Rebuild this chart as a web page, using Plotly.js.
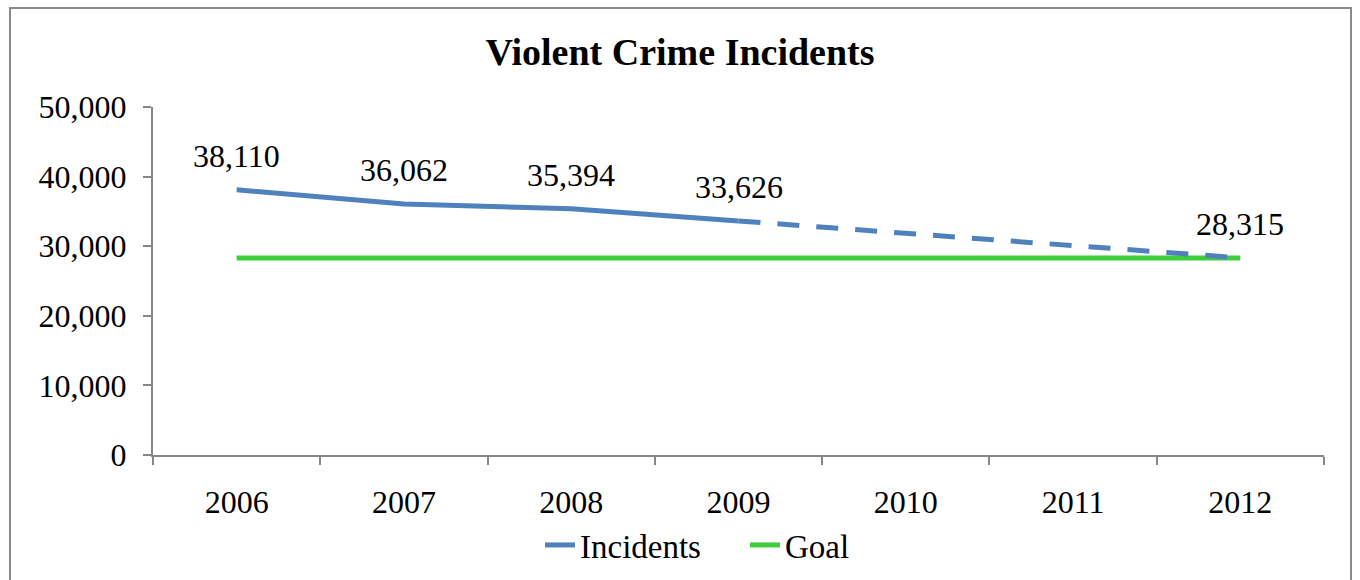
<!DOCTYPE html>
<html>
<head>
<meta charset="utf-8">
<script src="https://cdn.plot.ly/plotly-3.0.1.min.js"></script>
<style>
html,body{margin:0;padding:0;background:#fff;overflow:hidden;}
#wrap{position:relative;width:1360px;height:580px;}
#chart{position:absolute;left:0;top:0;width:1360px;height:580px;}
#frame{position:absolute;left:9px;top:7px;width:1343px;height:600px;border:2px solid #8a8a8a;pointer-events:none;box-sizing:border-box;}
#err{position:absolute;left:20px;top:20px;color:red;font-size:14px;}
</style>
</head>
<body>
<div id="wrap"><div id="chart"></div><div id="frame"></div><div id="err"></div></div>
<script>
const years = ['2006','2007','2008','2009','2010','2011','2012'];
const incidentsActual = [38110, 36062, 35394, 33626, null, null, null];
const incidentsProjected = [null, null, null, 33626, null, null, 28315];
const goal = [28315, 28315, 28315, 28315, 28315, 28315, 28315];
const labelYears = ['2006','2007','2008','2009','2012'];
const labelValues = [38110, 36062, 35394, 33626, 28315];
const labelTexts = ['38,110','36,062','35,394','33,626','28,315'];
const yTicks = [0, 10000, 20000, 30000, 40000, 50000];
const yTickText = ['0','10,000','20,000','30,000','40,000','50,000'];

const FONT = '"Liberation Serif", "Times New Roman", serif';
const BLUE = '#4F81BD';
const GREEN = '#3DCD3D';

try {
const traces = [
  {x: years, y: incidentsActual, type: 'scatter', mode: 'lines', name: 'Incidents',
   line: {color: BLUE, width: 5}, hoverinfo: 'skip'},
  {x: years, y: goal, type: 'scatter', mode: 'lines', name: 'Goal',
   line: {color: GREEN, width: 5}, hoverinfo: 'skip'},
  {x: years, y: incidentsProjected, type: 'scatter', mode: 'lines', name: 'Projected',
   connectgaps: true, showlegend: false,
   line: {color: BLUE, width: 5, dash: '22px,17px'}, hoverinfo: 'skip'}
];

const annotations = labelYears.map((yr, i) => ({
  x: years.indexOf(yr), y: labelValues[i], xref: 'x', yref: 'y',
  text: labelTexts[i],
  showarrow: false, yshift: 34,
  font: {family: FONT, size: 32, color: '#000'}
}));

const layout = {
  width: 1360, height: 580,
  margin: {l: 153, r: 36, t: 107, b: 125},
  paper_bgcolor: '#fff', plot_bgcolor: '#fff',
  font: {family: FONT, size: 32, color: '#000'},
  title: {text: '<b>Violent Crime Incidents</b>', x: 0.5, xref: 'container', xanchor: 'center',
          y: 1 - 52/580, yref: 'container', yanchor: 'middle',
          font: {family: FONT, size: 38, color: '#000'}},
  xaxis: {type: 'category', range: [-0.5, 6.5], tickson: 'boundaries',
          ticks: 'outside', ticklen: 8, tickwidth: 2, tickcolor: '#868686',
          showline: true, linecolor: '#868686', linewidth: 2,
          showgrid: false, zeroline: false, ticklabelstandoff: 18,
          tickfont: {family: FONT, size: 32, color: '#000'}},
  yaxis: {range: [0, 50000], tickvals: yTicks, ticktext: yTickText,
          ticks: 'outside', ticklen: 8, tickwidth: 2, tickcolor: '#868686',
          showline: true, linecolor: '#868686', linewidth: 2,
          showgrid: false, zeroline: false, ticklabelstandoff: 10,
          tickfont: {family: FONT, size: 32, color: '#000'}},
  legend: {orientation: 'h', x: 0.5 + 65/1360, xanchor: 'center', xref: 'container',
           y: 1 - 545/580, yref: 'container', yanchor: 'middle',
           font: {family: FONT, size: 33, color: '#000'},
           entrywidth: 160, entrywidthmode: 'pixels',
           bgcolor: 'rgba(0,0,0,0)'},
  annotations: annotations,
  showlegend: true
};

Plotly.newPlot('chart', traces, layout, {staticPlot: true, displayModeBar: false})
  .catch(e => { document.getElementById('err').textContent = 'ERR ' + e; });
} catch (e) {
  document.getElementById('err').textContent = 'ERR ' + e;
}
</script>
</body>
</html>
